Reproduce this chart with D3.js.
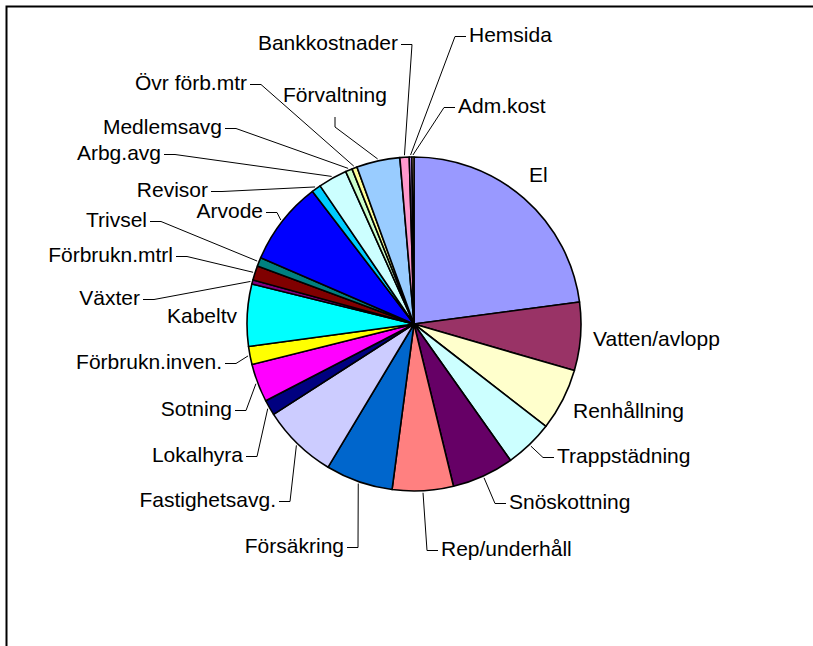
<!DOCTYPE html>
<html>
  <head>
    <meta charset="utf-8">
    <style>
    body {
      margin: 0;
      background: #fff;
    }
    text {
      font-family: "Liberation Sans", Arial, sans-serif;
      font-size: 21px;
      fill: #000;
    }
    </style>
  </head>
  <body>
    <script src="https://d3js.org/d3.v7.min.js"></script>
    <script>
    // slices, clockwise from 12 o'clock (share of total, %)
    var categories = ["El", "Vatten/avlopp", "Renhållning", "Trappstädning", "Snöskottning",
      "Rep/underhåll", "Försäkring", "Fastighetsavg.", "Lokalhyra", "Sotning",
      "Förbrukn.inven.", "Kabeltv", "Växter", "Förbrukn.mtrl", "Trivsel", "Arvode",
      "Revisor", "Arbg.avg", "Medlemsavg", "Övr förb.mtr", "Förvaltning",
      "Bankkostnader", "Hemsida", "Adm.kost"];

    var shares = [22.9, 6.6, 6.0, 4.7, 6.0,
      5.9, 6.5, 7.3, 1.5, 3.7,
      1.75, 6.0, 0.4, 1.4, 0.85, 8.1,
      0.9, 2.8, 0.65, 0.5, 4.2,
      0.9, 0.25, 0.2];

    var colors = ["#9999ff", "#993366", "#ffffcc", "#ccffff", "#660066",
      "#ff8080", "#0066cc", "#ccccff", "#000080", "#ff00ff",
      "#ffff00", "#00ffff", "#800080", "#800000", "#008080", "#0000ff",
      "#00ccff", "#ccffff", "#ccffcc", "#ffff99", "#99ccff",
      "#ff99cc", "#cc99ff", "#ffcc99"];

    // where each label sits: [x, baseline, anchor, leader?]
    var labelPlacement = {
      "El":              [529, 182, "start", false],
      "Vatten/avlopp":   [593, 346, "start", false],
      "Renhållning":     [573, 418, "start", false],
      "Trappstädning":   [557, 463, "start", true],
      "Snöskottning":    [509, 509, "start", true],
      "Rep/underhåll":   [441, 556, "start", true],
      "Försäkring":      [344, 553, "end", true],
      "Fastighetsavg.":  [276, 507, "end", true],
      "Lokalhyra":       [243, 462, "end", true],
      "Sotning":         [232, 416, "end", true],
      "Förbrukn.inven.": [222, 369, "end", true],
      "Kabeltv":         [237, 323, "end", false],
      "Växter":          [140, 305, "end", true],
      "Förbrukn.mtrl":   [173, 262, "end", true],
      "Trivsel":         [147, 227, "end", true],
      "Arvode":          [263, 218, "end", true],
      "Revisor":         [208, 197, "end", true],
      "Arbg.avg":        [161, 160, "end", true],
      "Medlemsavg":      [222, 134, "end", true],
      "Övr förb.mtr":    [247, 90, "end", true],
      "Förvaltning":     [335, 102, "middle", true],
      "Bankkostnader":   [398, 50, "end", true],
      "Hemsida":         [469, 42, "start", true],
      "Adm.kost":        [458, 113, "start", true]
    };

    var width = 813, height = 646;
    var cx = 414, cy = 324, radius = 167;

    var svg = d3.select("body").append("svg")
        .attr("width", width)
        .attr("height", height);

    // chart area frame (runs off the right and bottom edge)
    svg.append("rect")
        .attr("x", 6.5).attr("y", 6.5)
        .attr("width", 830).attr("height", 680)
        .attr("fill", "none")
        .attr("stroke", "#000")
        .attr("stroke-width", 2);

    var data = categories.map(function(c, i) { return {name: c, value: shares[i], color: colors[i]}; });

    var pie = d3.pie()
        .sort(null)
        .value(function(d) { return d.value; });

    var arc = d3.arc()
        .innerRadius(0)
        .outerRadius(radius);

    var arcs = pie(data);

    var g = svg.append("g")
        .attr("transform", "translate(" + cx + "," + cy + ")");

    g.selectAll(".slice")
        .data(arcs)
      .enter().append("path")
        .attr("class", "slice")
        .attr("d", arc)
        .attr("fill", function(d) { return d.data.color; })
        .attr("stroke", "#000")
        .attr("stroke-width", 1.6)
        .attr("stroke-linejoin", "round");

    // leader lines: short horizontal stub next to the text, then to the slice rim
    function rimPoint(d) {
      var a = (d.startAngle + d.endAngle) / 2;
      return [cx + (radius + 2) * Math.sin(a), cy - (radius + 2) * Math.cos(a)];
    }

    var leaders = svg.append("g");
    var labels = svg.append("g");

    arcs.forEach(function(d) {
      var p = labelPlacement[d.data.name];
      var x = p[0], y = p[1], anchor = p[2];

      labels.append("text")
          .attr("x", x)
          .attr("y", y)
          .attr("text-anchor", anchor)
          .text(d.data.name);

      if (!p[3]) return;
      var pts;
      if (anchor === "middle") {
        pts = [[x, y + 15], [x, y + 25], rimPoint(d)];
      } else {
        var dir = anchor === "end" ? 1 : -1;
        pts = [[x + dir * 3, y - 5.5], [x + dir * 14, y - 5.5], rimPoint(d)];
      }
      leaders.append("path")
          .attr("d", d3.line()(pts))
          .attr("fill", "none")
          .attr("stroke", "#000")
          .attr("stroke-width", 1);
    });
    </script>
  </body>
</html>
